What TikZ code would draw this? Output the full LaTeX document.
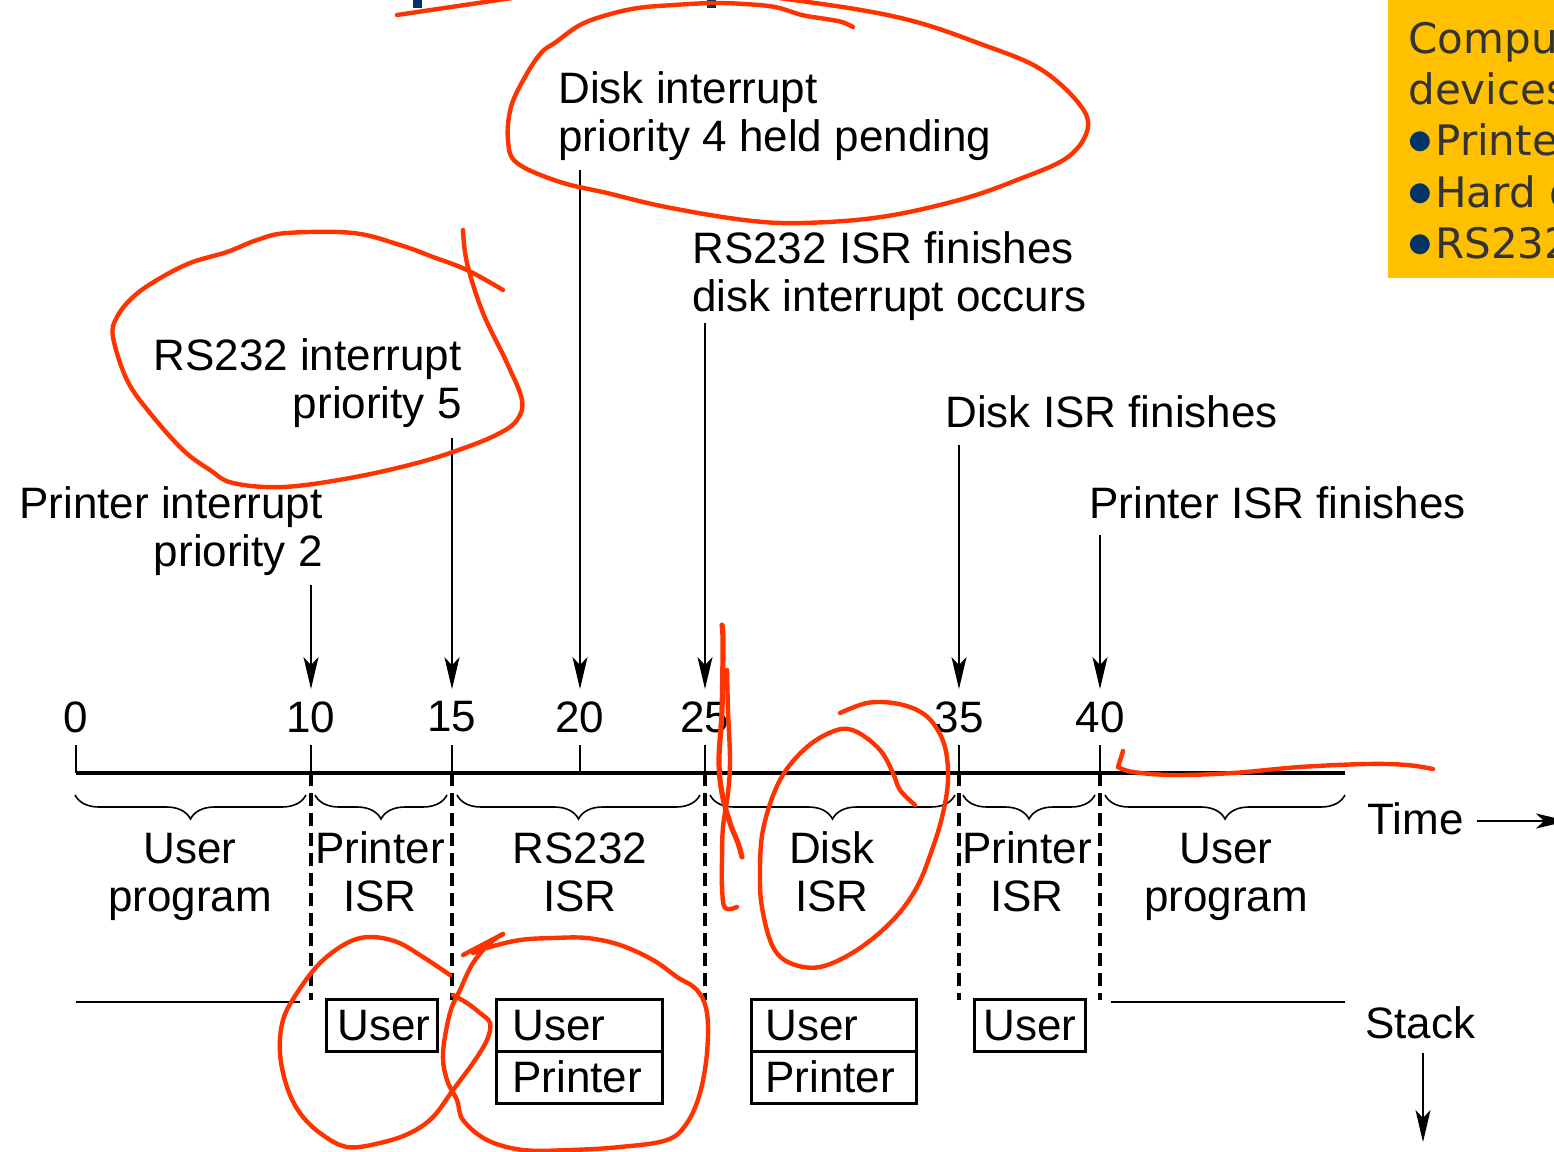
\documentclass[tikz,border=0pt]{standalone}
\usepackage{fontspec}
\setmainfont{Liberation Sans}
\newfontfamily\slidefont{DejaVu Sans}
\usetikzlibrary{arrows.meta,decorations.pathreplacing}
\definecolor{redpen}{HTML}{FF3300}
\definecolor{slideyellow}{HTML}{FFC000}
\definecolor{slidegray}{HTML}{333333}
\definecolor{slidenavy}{HTML}{003366}
\begin{document}
\begin{tikzpicture}[x=0.5pt,y=-0.5pt,
  lbl/.style={font=\fontsize{22}{24}\selectfont, inner sep=0pt},
  num/.style={font=\fontsize{22}{24}\selectfont, inner sep=6pt},
  arr/.style={line width=1pt, -{Stealth[length=16pt,width=7.5pt,inset=4pt]}},
  fine/.style={line width=1pt},
  axis/.style={line width=2pt},
  sepline/.style={line width=1.8pt, dash pattern=on 6.5pt off 3.5pt},
  brc/.style={decorate, decoration={brace, amplitude=12pt}, line width=0.8pt},
  sbox/.style={draw, line width=1.7pt, inner sep=0pt, minimum height=26pt, anchor=north west},
  slide/.style={font=\slidefont\fontsize{21}{25}\selectfont, text=slidegray, inner sep=0pt, anchor=base west},
  bul/.style={font=\slidefont\fontsize{13}{14}\selectfont, text=slidenavy, inner sep=0pt},
  pen/.style={draw=redpen, line width=2.2pt, line cap=round, line join=round},
]
\useasboundingbox (0,0) rectangle (1554,1152);
\clip (0,0) rectangle (1554,1152);

% slide remnants
\fill[slidenavy] (413,0) rectangle (422,8);
\fill[slidenavy] (707,0) rectangle (716,8);
\fill[slideyellow] (1388,0) rectangle (1560,278);
\node[slide] (y1) at (1408,53) {Compu};
\node[slide] (y2) at (1408,104) {devices};
\node[bul] (yb3) at (1420,142) {●};
\node[slide] (y3) at (1435,155) {Printe};
\node[bul] (yb4) at (1420,194) {●};
\node[slide] (y4) at (1435,207) {Hard d};
\node[bul] (yb5) at (1420,245) {●};
\node[slide] (y5) at (1435,258) {RS232};

% time axis
\foreach \n/\x in {0/76,10/311,15/452,20/580,25/705,35/959,40/1100}{
  \node[num] (t\n) at (\x,717) {\n};
  \coordinate (p\n) at (\x,773);
  \coordinate (d\n) at (\x,1000);
}
\coordinate (pend) at (1345,773);
\draw[axis] (p0) -- (pend);
\foreach \n in {0,10,15,20,25,35,40}{\draw[fine] (t\n.south) -- (p\n);}
\foreach \n in {10,15,25,35,40}{\draw[sepline] (p\n) -- (d\n);}

% event texts
\node[lbl, anchor=base east] (pi1) at (323,518) {Printer interrupt};
\node[lbl, anchor=base east] (pi2) at (323,566) {priority 2};
\node[lbl, anchor=base east] (ri1) at (462,370) {RS232 interrupt};
\node[lbl, anchor=base east] (ri2) at (462,418) {priority 5};
\node[lbl, anchor=base west] (di1) at (558,103) {Disk interrupt};
\node[lbl, anchor=base west] (di2) at (558,151) {priority 4 held pending};
\node[lbl, anchor=base west] (rf1) at (692,263) {RS232 ISR finishes};
\node[lbl, anchor=base west] (rf2) at (692,311) {disk interrupt occurs};
\node[lbl, anchor=base west] (df) at (945,427) {Disk ISR finishes};
\node[lbl, anchor=base west] (pf) at (1089,518) {Printer ISR finishes};

\coordinate (s10) at (311,585);
\coordinate (s15) at (452,438);
\coordinate (s20) at (580,170);
\coordinate (s25) at (705,323);
\coordinate (s35) at (959,445);
\coordinate (s40) at (1100,535);
\foreach \n in {10,15,20,25,35,40}{\draw[arr] (s\n) -- (t\n.north);}

% braces
\foreach \i/\a/\b in {1/75/306,2/315/447,3/457/700,4/710/955,5/963/1095,6/1105/1345}{
  \coordinate (bl\i) at (\a,795);
  \coordinate (br\i) at (\b,795);
  \draw[brc] (br\i) -- (bl\i);
}
\node[lbl, anchor=base] (u1a) at (190,863) {User};
\node[lbl, anchor=base] (u1b) at (190,911) {program};
\node[lbl, anchor=base] (u2a) at (380,863) {Printer};
\node[lbl, anchor=base] (u2b) at (380,911) {ISR};
\node[lbl, anchor=base] (u3a) at (580,863) {RS232};
\node[lbl, anchor=base] (u3b) at (580,911) {ISR};
\node[lbl, anchor=base] (u4a) at (832,863) {Disk};
\node[lbl, anchor=base] (u4b) at (832,911) {ISR};
\node[lbl, anchor=base] (u5a) at (1027,863) {Printer};
\node[lbl, anchor=base] (u5b) at (1027,911) {ISR};
\node[lbl, anchor=base] (u6a) at (1226,863) {User};
\node[lbl, anchor=base] (u6b) at (1226,911) {program};

% time and stack labels
\node[lbl, anchor=base west] (time) at (1367,834) {Time};
\coordinate (ta) at (1477,821);
\coordinate (tb) at (1568,821);
\draw[arr] (ta) -- (tb);
\node[lbl, anchor=base west] (stack) at (1365,1038) {Stack};
\coordinate (sa) at (1423,1053);
\coordinate (sb) at (1423,1142);
\draw[arr] (sa) -- (sb);

% stack lines
\coordinate (sl1) at (76,1002);
\coordinate (sl2) at (300,1002);
\coordinate (sr1) at (1111,1002);
\coordinate (sr2) at (1345,1002);
\draw[fine] (sl1) -- (sl2);
\draw[fine] (sr1) -- (sr2);

% stack boxes
\node[sbox, minimum width=55.5pt] (k1) at (325,998) {};
\node[sbox, minimum width=83pt] (k2a) at (495,998) {};
\node[sbox, minimum width=83pt] (k2b) at (495,1050) {};
\node[sbox, minimum width=82.5pt] (k3a) at (750,998) {};
\node[sbox, minimum width=82.5pt] (k3b) at (750,1050) {};
\node[sbox, minimum width=55.5pt] (k4) at (973,998) {};
\node[lbl, anchor=base west] (k1t) at (337,1040) {User};
\node[lbl, anchor=base west] (k2at) at (512,1040) {User};
\node[lbl, anchor=base west] (k2bt) at (512,1092) {Printer};
\node[lbl, anchor=base west] (k3at) at (765,1040) {User};
\node[lbl, anchor=base west] (k3bt) at (765,1092) {Printer};
\node[lbl, anchor=base west] (k4t) at (983,1040) {User};

% red pen annotations
\draw[pen] (397,15) -- (512,-2);
\draw[pen] plot[smooth, tension=0.6] coordinates {(779,-2) (861,10) (920,23) (978,43) (1037,67) (1076,100) (1088,127) (1068,157) (1017,180) (959,200) (881,217) (802,223) (744,220) (666,207) (607,193) (560,182) (517,163) (508,140) (511,107) (525,77) (541,53) (556,42) (580,25) (607,15) (638,8) (674,5) (713,3) (744,4) (775,7) (802,15) (826,19) (842,22) (853,27)};
\draw[pen] plot[smooth, tension=0.6] coordinates {(463,230) (467,263) (483,313) (507,363) (522,400) (517,420) (500,433) (467,447) (417,463) (350,478) (283,487) (233,483) (210,470) (183,450) (150,413) (127,380) (113,337) (117,317) (133,297) (157,280) (190,263) (227,252) (257,240) (287,233) (353,233) (400,245) (433,257) (467,270) (503,290)};
\draw[pen, line width=2.6pt] plot[smooth, tension=0.6] coordinates {(722,625) (723,643) (722,710) (719,760) (722,793) (730,823) (738,843) (742,857)};
\draw[pen] plot[smooth, tension=0.6] coordinates {(727,670) (728,710) (730,760) (728,793) (723,827) (722,860) (722,887) (725,908) (737,907)};
\draw[pen] plot[smooth, tension=0.6] coordinates {(840,713) (867,703) (893,703) (917,710) (933,723) (945,747) (948,780) (943,813) (933,847) (917,887) (893,920) (857,950) (820,967) (790,963) (773,947) (763,913) (760,880) (763,830) (780,780) (807,747) (837,730) (857,732) (880,750) (893,773) (900,790) (915,805)};
\draw[pen] plot[smooth, tension=0.6] coordinates {(450,975) (423,957) (397,942) (370,937) (347,943) (320,963) (297,993) (283,1020) (280,1053) (287,1087) (300,1113) (320,1133) (347,1147) (380,1143) (410,1133) (433,1117) (453,1090) (473,1063) (487,1040) (490,1023) (480,1013) (467,1003) (453,995)};
\draw[pen] (463,955) -- (503,934);
\draw[pen] plot[smooth, tension=0.6] coordinates {(503,934) (490,943) (473,963) (460,990) (450,1013) (443,1053) (447,1080) (457,1100) (463,1120) (487,1140) (523,1150) (570,1150) (620,1147) (667,1140) (687,1123) (700,1093) (707,1053) (707,1013) (697,990) (677,977) (653,960) (620,945) (587,938) (553,938) (520,940) (490,947) (473,953)};
\draw[pen] (1123,751) -- (1118,767);
\draw[pen] plot[smooth, tension=0.6] coordinates {(1118,767) (1133,772) (1173,775) (1233,773) (1300,767) (1367,764) (1407,765) (1433,769)};
\end{tikzpicture}
\end{document}
